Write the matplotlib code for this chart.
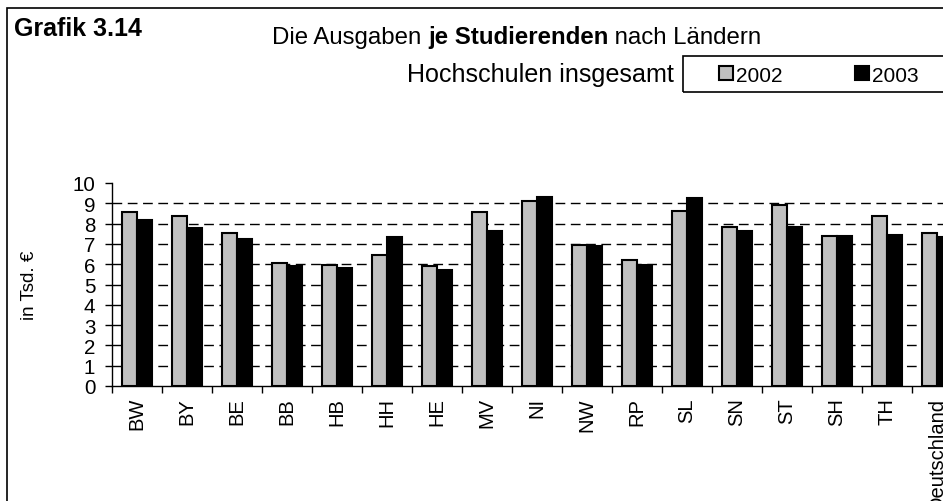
import matplotlib
matplotlib.use("Agg")
import matplotlib.pyplot as plt
from matplotlib.patches import Rectangle
import numpy as np

plt.rcParams['font.family'] = ['Liberation Sans', 'DejaVu Sans']

categories = ["BW", "BY", "BE", "BB", "HB", "HH", "HE", "MV", "NI", "NW",
              "RP", "SL", "SN", "ST", "SH", "TH", "Deutschland"]
values_2002 = [8.59, 8.36, 7.55, 6.04, 5.94, 6.45, 5.89, 8.59, 9.13, 6.97,
               6.20, 8.62, 7.85, 8.90, 7.40, 8.36, 7.53]
values_2003 = [8.19, 7.80, 7.25, 5.90, 5.79, 7.34, 5.69, 7.65, 9.29, 6.91,
               5.95, 9.28, 7.62, 7.85, 7.40, 7.43, 7.32]
series_labels = ["2002", "2003"]
yticks = list(range(0, 11))

W, H = 943, 502
fig = plt.figure(figsize=(W / 100, H / 100), dpi=100)

# axes: left at 112px, 50px per category, y0 at 387px, y10 at 184px
left = 112 / W
width = 17 * 50 / W
bottom = 1 - 387 / H
height = (387 - 184) / H
ax = fig.add_axes([left, bottom, width, height])

x = np.arange(len(categories))
bw = 0.3
b1 = ax.bar(x - bw / 2, values_2002, bw, color="#C0C0C0", edgecolor="black",
            linewidth=1.5, zorder=3, label=series_labels[0])
b2 = ax.bar(x + bw / 2, values_2003, bw, color="black", edgecolor="black",
            linewidth=1.5, zorder=3, label=series_labels[1])

ax.set_xlim(-0.5, len(categories) - 0.5)
ax.set_ylim(0, 10)
ax.set_yticks(yticks)
ax.set_yticklabels([str(t) for t in yticks], fontsize=14.8)
ax.set_xticks(x)
ax.set_xticklabels(categories, rotation=90, fontsize=14.5, va="top")
ax.set_xticks(np.arange(-0.5, len(categories), 1), minor=True)
ax.tick_params(axis="x", which="major", length=0, pad=8)
ax.tick_params(axis="x", which="minor", length=5, width=1, direction="out")
ax.tick_params(axis="y", length=5, width=1, direction="out", pad=7)

ax.spines["top"].set_visible(False)
ax.spines["right"].set_visible(False)
ax.spines["left"].set_linewidth(1)
ax.spines["bottom"].set_linewidth(1)

ax.yaxis.grid(True, color="black", linestyle=(0, (7, 4)), linewidth=1, zorder=0)
ax.set_axisbelow(True)
gl = ax.get_ygridlines()
gl[0].set_visible(False)
gl[-1].set_visible(False)

ax.set_ylabel("in Tsd. €", fontsize=13.5)
ax.yaxis.set_label_coords(38 / W, 1 - 285 / H, transform=fig.transFigure)

# outer frame
fig.patches.append(Rectangle((7.5 / W, -0.2), 1.2, 1 - 9 / H + 0.2,
                             transform=fig.transFigure, fill=False,
                             edgecolor="black", linewidth=1.2))

# header texts
fig.text(14 / W, 1 - 36 / H, "Grafik 3.14", fontsize=18, fontweight="bold",
         ha="left", va="baseline")

ty = 1 - 44 / H
t1 = fig.text(272 / W, ty, "Die Ausgaben ", fontsize=17.3,
              ha="left", va="baseline")
t2 = fig.text(0, ty, "je Studierenden", fontsize=17.3, fontweight="bold",
              ha="left", va="baseline")
t3 = fig.text(0, ty, " nach Ländern", fontsize=17.3, ha="left", va="baseline")
fig.canvas.draw()
r = fig.canvas.get_renderer()
e1 = t1.get_window_extent(r)
t2.set_position((e1.x1 / W, ty))
fig.canvas.draw()
e2 = t2.get_window_extent(r)
t3.set_position((e2.x1 / W, ty))

fig.text(674 / W, 1 - 82 / H, "Hochschulen insgesamt", fontsize=18.1,
         ha="right", va="baseline")

# legend box
fig.patches.append(Rectangle((683 / W, 1 - 93 / H), 0.5, 36 / H,
                             transform=fig.transFigure, fill=False,
                             edgecolor="black", linewidth=1.2))
leg = fig.legend(handles=[b1, b2], labels=series_labels, ncol=2,
                 loc="center left", bbox_to_anchor=(719 / W, 1 - 76 / H),
                 frameon=False, fontsize=15, handlelength=0.68,
                 handleheight=0.68, handletextpad=0.12, columnspacing=3.5,
                 borderpad=0, borderaxespad=0)

fig.savefig("out.png", dpi=100)
